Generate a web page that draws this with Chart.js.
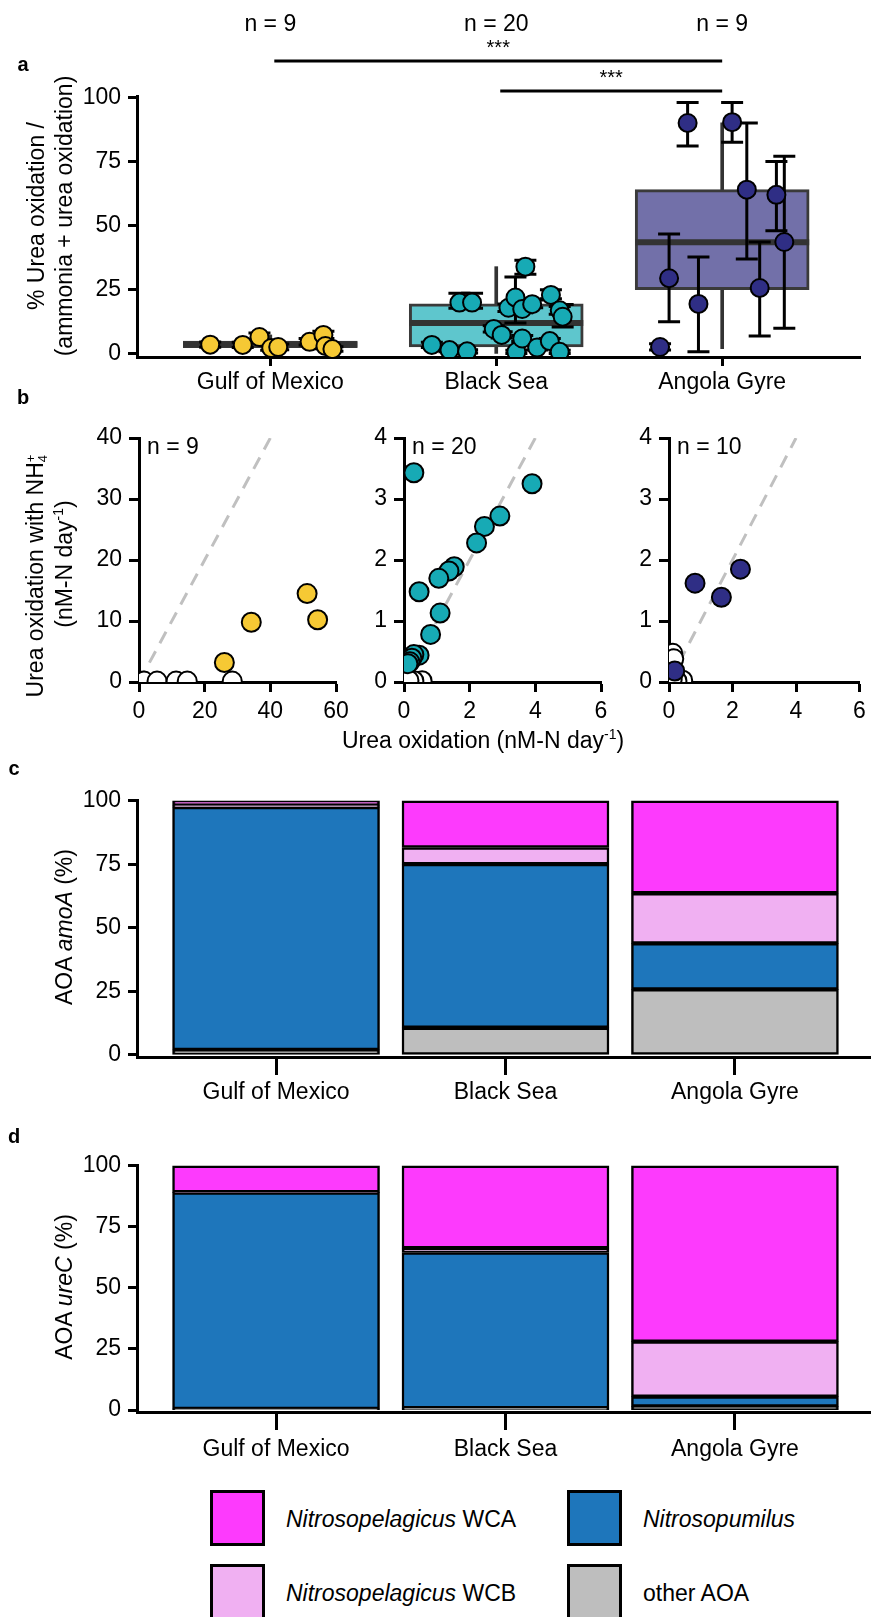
<!DOCTYPE html>
<html>
<head>
<meta charset="utf-8">
<script src="https://cdn.jsdelivr.net/npm/chart.js@4.4.1/dist/chart.umd.min.js"></script>
<style>
  body { margin: 0; background: #fff; }
  #fig { position: relative; width: 871px; height: 1617px; overflow: hidden;
         font-family: 'Liberation Sans', Arial, sans-serif; color: #000; }
  canvas { position: absolute; }
  .t { position: absolute; white-space: nowrap; font-size: 23px; line-height: 1; }
  .c { transform: translate(-50%, -50%); }
  .rot { transform: translate(-50%, -50%) rotate(-90deg); }
  .v { transform: translateY(-50%); }
  .lab { position: absolute; font-weight: bold; font-size: 20px; line-height: 1; transform: translate(-50%, -50%); }
  sup { font-size: 14px; line-height: 0; vertical-align: 9px; }
  .ss { display: inline-block; font-size: 13px; line-height: 12px; vertical-align: -4px; text-align: left; }
  .key { position: absolute; width: 55px; height: 56px; box-sizing: border-box; border: 3px solid #000; }
</style>
</head>
<body>
<div id="fig">
  <canvas id="cA" width="871" height="400" style="left:0;top:0"></canvas>
  <canvas id="cB1" width="360" height="360" style="left:0;top:400px"></canvas>
  <canvas id="cB2" width="265" height="360" style="left:360px;top:400px"></canvas>
  <canvas id="cB3" width="246" height="360" style="left:625px;top:400px"></canvas>
  <canvas id="cC" width="871" height="355" style="left:0;top:760px"></canvas>
  <canvas id="cD" width="871" height="345" style="left:0;top:1120px"></canvas>

  <div class="lab" style="left:23px;top:64px">a</div>
  <div class="lab" style="left:23px;top:397px">b</div>
  <div class="lab" style="left:14px;top:768px">c</div>
  <div class="lab" style="left:14px;top:1136px">d</div>

  <div class="t rot" style="left:36px;top:216px">% Urea oxidation /</div>
  <div class="t rot" style="left:64px;top:216px">(ammonia + urea oxidation)</div>

  <div class="t rot" style="left:36px;top:576px">Urea oxidation with NH<span class="ss">+<br>4</span></div>
  <div class="t rot" style="left:64px;top:564px">(nM-N day<sup>-1</sup>)</div>
  <div class="t c" style="left:483px;top:740px">Urea oxidation (nM-N day<sup>-1</sup>)</div>

  <div class="t rot" style="left:64px;top:927px">AOA <i>amoA</i> (%)</div>
  <div class="t rot" style="left:64px;top:1287px">AOA <i>ureC</i> (%)</div>

  <div class="key" style="left:210px;top:1490px;background:#fd3afd"></div>
  <div class="t v" style="left:286px;top:1519px"><i>Nitrosopelagicus</i> WCA</div>
  <div class="key" style="left:567px;top:1490px;background:#1e76bb"></div>
  <div class="t v" style="left:643px;top:1519px"><i>Nitrosopumilus</i></div>
  <div class="key" style="left:210px;top:1564px;background:#f0b0f2"></div>
  <div class="t v" style="left:286px;top:1593px"><i>Nitrosopelagicus</i> WCB</div>
  <div class="key" style="left:567px;top:1564px;background:#bebebe"></div>
  <div class="t v" style="left:643px;top:1593px">other AOA</div>
</div>

<script>
// ---------- panel a: % urea oxidation ----------
const sites = ['Gulf of Mexico', 'Black Sea', 'Angola Gyre'];
const siteN = ['n = 9', 'n = 20', 'n = 9'];
const boxQ1 = [2.4, 2.7, 25];
const boxMed = [3.7, 12, 43.5];
const boxQ3 = [5, 19.5, 64];
const whiskLo = [1.9, 0, 2];
const whiskHi = [7.4, 34, 90];

const gomPos = [0.734, 0.878, 0.952, 1.004, 1.035, 1.174, 1.235, 1.244, 1.275];
const gomVal = [3.6, 3.5, 6.6, 2.3, 2.7, 4.7, 7.4, 3.1, 1.9];
const gomLo  = [2.6, 2.5, 5.2, 1.4, 1.6, 3.5, 6.0, 2.0, 1.0];
const gomHi  = [4.6, 4.5, 8.2, 3.3, 3.9, 6.0, 8.8, 4.2, 2.8];

const bsPos = [1.715, 1.793, 1.871, 1.837, 1.893, 1.989, 2.024, 2.089, 2.054, 2.085,
               2.115, 2.129, 2.159, 2.115, 2.181, 2.242, 2.237, 2.281, 2.294, 2.281];
const bsVal = [3.5, 1.5, 1.0, 20, 20, 9.7, 7.4, 0.8, 18, 22,
               17.5, 34, 19.4, 6, 2.5, 23, 5, 17, 14.5, 0.8];
const bsLo  = [2.5, 0.8, 0.4, 17.8, 17.8, 8.5, 6.2, 0.2, 16.5, 12,
               16, 31, 18, 4.8, 1.5, 21.5, 4, 15.5, 10.5, 0.2];
const bsHi  = [4.5, 2.2, 1.6, 23.6, 23.6, 11, 8.6, 1.4, 19.5, 30,
               19, 36.5, 21, 7.2, 3.5, 25, 6, 18.5, 19.3, 1.4];

const agPos = [2.847, 3.044, 3.109, 3.240, 3.275, 2.765, 2.895, 3.166, 2.725];
const agVal = [90, 90.3, 64, 62, 43.6, 29.5, 19.5, 25.7, 2.7];
const agLo  = [81, 82.5, 37, 48, 10, 12.5, 0.8, 7, 1.5];
const agHi  = [98, 98, 90, 75, 77, 46.7, 37.8, 43.6, 4];

// ---------- panel b: urea oxidation with vs without NH4+ ----------
const gomX = [26, 34.2, 51.2, 54.4];
const gomY = [3.2, 9.8, 14.5, 10.2];
const gomOpenX = [1.5, 5.5, 11.3, 14.7, 28.4];
const gomOpenY = [0.15, 0.15, 0.15, 0.15, 0.15];

const bsX = [0.30, 3.9, 2.92, 2.45, 2.21, 1.53, 1.37, 1.06, 0.46, 1.1, 0.81, 0.46, 0.30, 0.24, 0.18, 0.12];
const bsY = [3.43, 3.25, 2.72, 2.55, 2.28, 1.89, 1.82, 1.70, 1.48, 1.13, 0.78, 0.44, 0.45, 0.39, 0.33, 0.30];
const bsOpenX = [0.08, 0.55, 0.3, 0.15];
const bsOpenY = [0.03, 0.02, 0.02, 0.03];

const agX = [0.82, 1.65, 2.25, 0.18];
const agY = [1.62, 1.39, 1.85, 0.18];
const agOpenX = [0.12, 0.15, 0.43, 0.05, 0.25, 0.1];
const agOpenY = [0.47, 0.38, 0.03, 0.1, 0.02, 0.05];

// ---------- panels c, d: community composition (%) ----------
const groups = ['other AOA', 'Nitrosopumilus', 'Nitrosopelagicus WCB', 'Nitrosopelagicus WCA'];
const amoA = {
  other: [2, 10.7, 25.8],
  pumilus: [95.5, 64.4, 18.1],
  wcb: [0.8, 6.5, 19.7],
  wca: [1.7, 18.4, 36.4]
};
const ureC = {
  other: [0.5, 0.8, 1.5],
  pumilus: [88.5, 63.7, 4.0],
  wcb: [0.2, 1.8, 22.5],
  wca: [10.8, 33.7, 72]
};

const siteCol = ['#f6c934', '#17aab5', '#2f2e85'];
const boxCol = ['#f6c934', '#5ec6cd', '#7270a9'];
const groupCol = ['#bebebe', '#1e76bb', '#f0b0f2', '#fd3afd'];

Chart.defaults.font.family = "'Liberation Sans', Arial, sans-serif";
Chart.defaults.font.size = 23;
Chart.defaults.color = '#000';
Chart.defaults.animation = false;
Chart.defaults.responsive = false;
Chart.defaults.plugins.legend.display = false;
Chart.defaults.plugins.tooltip.enabled = false;

const pts = (xs, ys) => xs.map((x, i) => ({x: x, y: ys[i]}));

function axis(min, max, vals, o) {
  return {
    type: 'linear', min: min, max: max, offset: false,
    stacked: o.stacked || false,
    afterBuildTicks: s => { s.ticks = vals.map(v => ({value: v})); },
    afterFit: s => {
      if (o.w !== undefined) { s.width = o.w; s.paddingTop = 0; s.paddingBottom = 0; }
      if (o.h !== undefined) { s.height = o.h; s.paddingLeft = 0; s.paddingRight = 0; }
    },
    ticks: { padding: o.pad, autoSkip: false, maxRotation: 0, callback: o.cb },
    grid: { offset: false, drawOnChartArea: false, tickLength: o.tl, tickWidth: 3, tickColor: '#000' },
    border: { color: '#000', width: 3 }
  };
}

// error bars drawn just before each point set, medians just after the boxes
const errorBars = {
  id: 'errorBars',
  beforeDatasetDraw(chart, args) {
    const ds = chart.data.datasets[args.index];
    if (!ds.errLo) return;
    const {ctx, scales: {x, y}} = chart;
    ctx.save();
    ctx.strokeStyle = '#000';
    ctx.lineWidth = 3;
    ds.data.forEach((p, i) => {
      const px = x.getPixelForValue(p.x);
      const y1 = y.getPixelForValue(ds.errLo[i]);
      const y2 = y.getPixelForValue(ds.errHi[i]);
      ctx.beginPath();
      ctx.moveTo(px, y1); ctx.lineTo(px, y2);
      ctx.moveTo(px - 11, y1); ctx.lineTo(px + 11, y1);
      ctx.moveTo(px - 11, y2); ctx.lineTo(px + 11, y2);
      ctx.stroke();
    });
    ctx.restore();
  },
  afterDatasetDraw(chart, args) {
    const ds = chart.data.datasets[args.index];
    if (!ds.medians) return;
    const {ctx, scales: {y}} = chart;
    ctx.save();
    ctx.strokeStyle = '#333';
    ctx.lineWidth = 6;
    args.meta.data.forEach((el, i) => {
      const py = y.getPixelForValue(ds.medians[i]);
      ctx.beginPath();
      ctx.moveTo(el.x - el.width / 2, py);
      ctx.lineTo(el.x + el.width / 2, py);
      ctx.stroke();
    });
    ctx.restore();
  }
};

const annotA = {
  id: 'annotA',
  afterDraw(chart) {
    const {ctx, scales: {x}, chartArea: {top}} = chart;
    ctx.save();
    ctx.fillStyle = '#000';
    ctx.textAlign = 'center';
    ctx.textBaseline = 'middle';
    ctx.font = "23px 'Liberation Sans', Arial, sans-serif";
    siteN.forEach((t, i) => ctx.fillText(t, x.getPixelForValue(i + 1), top - 71));
    ctx.strokeStyle = '#000';
    ctx.lineWidth = 3;
    ctx.font = "20px 'Liberation Sans', Arial, sans-serif";
    ctx.textBaseline = 'alphabetic';
    [[1, 3, -35], [2, 3, -5]].forEach(([a, b, dy]) => {
      const x1 = x.getPixelForValue(a) + 4, x2 = x.getPixelForValue(b);
      ctx.beginPath();
      ctx.moveTo(x1, top + dy); ctx.lineTo(x2, top + dy);
      ctx.stroke();
      ctx.fillText('***', (x1 + x2) / 2, top + dy - 7);
    });
    ctx.restore();
  }
};

const ptStyle = (c, r) => ({
  backgroundColor: c, borderColor: '#000', borderWidth: 2, pointRadius: r,
  pointHoverRadius: r, clip: 0, order: 1
});

new Chart(document.getElementById('cA'), {
  type: 'bar',
  data: {
    datasets: [
      { type: 'bar', data: sites.map((s, i) => ({x: i + 1, y: [whiskLo[i], whiskHi[i]]})),
        backgroundColor: '#333', borderWidth: 0, barThickness: 3, grouped: false, order: 4 },
      { type: 'bar', data: sites.map((s, i) => ({x: i + 1, y: [boxQ1[i], boxQ3[i]]})),
        medians: boxMed, backgroundColor: boxCol, borderColor: '#3a3a3a', borderWidth: 3,
        borderSkipped: false, barThickness: 174, grouped: false, order: 3 },
      Object.assign({ type: 'scatter', data: pts(gomPos, gomVal), errLo: gomLo, errHi: gomHi }, ptStyle(siteCol[0], 9)),
      Object.assign({ type: 'scatter', data: pts(bsPos, bsVal), errLo: bsLo, errHi: bsHi }, ptStyle(siteCol[1], 9)),
      Object.assign({ type: 'scatter', data: pts(agPos, agVal), errLo: agLo, errHi: agHi }, ptStyle(siteCol[2], 9))
    ]
  },
  options: {
    layout: { padding: { top: 96, left: 0, right: 0, bottom: 0 } },
    scales: {
      x: axis(0.41, 3.61, [1, 2, 3], { h: 43, tl: 9, pad: 3, cb: v => sites[v - 1] }),
      y: axis(-1.2, 100.5, [0, 25, 50, 75, 100], { w: 137, tl: 9, pad: 7 })
    }
  },
  plugins: [errorBars, annotA]
});

const nLabel = text => ({
  id: 'nLabel',
  afterDraw(chart) {
    const {ctx, chartArea: {left, top}} = chart;
    ctx.save();
    ctx.fillStyle = '#000';
    ctx.textAlign = 'left';
    ctx.textBaseline = 'middle';
    ctx.font = "23px 'Liberation Sans', Arial, sans-serif";
    ctx.fillText(text, left + 8, top + 10);
    ctx.restore();
  }
});

function scatterPanel(id, n, xmax, ymax, xt, yt, yw, padR, filled, open, col) {
  new Chart(document.getElementById(id), {
    type: 'scatter',
    data: {
      datasets: [
        { type: 'line', data: [{x: 0, y: 0}, {x: ymax, y: ymax}], borderColor: '#c0c0c0',
          borderWidth: 3, borderDash: [13, 9], pointRadius: 0, clip: 0, order: 3 },
        Object.assign({ data: open }, ptStyle('#fff', 9.5), { order: 2 }),
        Object.assign({ data: filled }, ptStyle(col, 9.5))
      ]
    },
    options: {
      layout: { padding: { top: 38, left: 0, right: padR, bottom: 0 } },
      scales: {
        x: axis(0, xmax, xt, { h: 78, tl: 10, pad: 6 }),
        y: axis(0, ymax, yt, { w: yw, tl: 10, pad: 7 })
      }
    },
    plugins: [nLabel(n)]
  });
}

scatterPanel('cB1', 'n = 9', 60, 40, [0, 20, 40, 60], [0, 10, 20, 30, 40], 139, 24,
  pts(gomX, gomY), pts(gomOpenX, gomOpenY), siteCol[0]);
scatterPanel('cB2', 'n = 20', 6, 4, [0, 2, 4, 6], [0, 1, 2, 3, 4], 44, 24,
  pts(bsX, bsY), pts(bsOpenX, bsOpenY), siteCol[1]);
scatterPanel('cB3', 'n = 10', 6, 4, [0, 2, 4, 6], [0, 1, 2, 3, 4], 44, 5,
  pts(agX, agY), pts(agOpenX, agOpenY), siteCol[2]);

function stackPanel(id, comp, padTop, h, pad) {
  const keys = ['other', 'pumilus', 'wcb', 'wca'];
  new Chart(document.getElementById(id), {
    type: 'bar',
    data: {
      datasets: keys.map((k, j) => ({
        label: groups[j],
        data: comp[k].map((v, i) => ({x: i + 1, y: v})),
        backgroundColor: groupCol[j], borderColor: '#000', borderWidth: 2.5,
        borderSkipped: false, barThickness: 207, stack: 's'
      }))
    },
    options: {
      layout: { padding: { top: padTop, left: 0, right: 0, bottom: 0 } },
      scales: {
        x: axis(0.394, 3.593, [1, 2, 3], { h: h, tl: 18, pad: pad, stacked: true, cb: v => sites[v - 1] }),
        y: axis(-0.8, 100.3, [0, 25, 50, 75, 100], { w: 137, tl: 9, pad: 7, stacked: true })
      }
    }
  });
}

stackPanel('cC', amoA, 40, 58, 4);
stackPanel('cD', ureC, 45, 53, 6);
</script>
</body>
</html>
